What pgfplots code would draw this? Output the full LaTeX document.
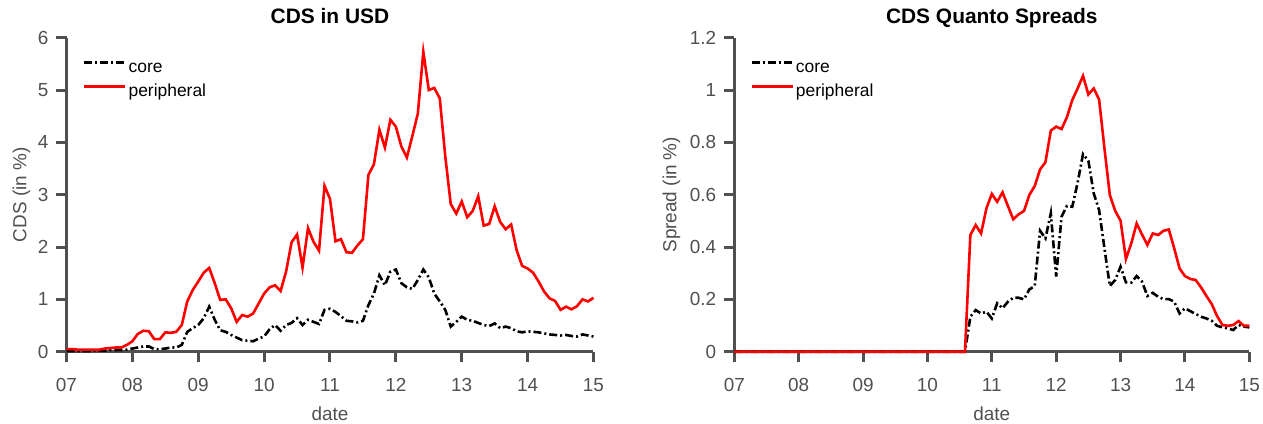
\documentclass[border=0pt]{standalone}
\usepackage{pgfplots}
\usepackage{pgfplotstable}
\usepackage{fontspec}
\setmainfont{Liberation Sans}
\pgfplotsset{compat=1.18}
\definecolor{axisgray}{RGB}{80,80,80}
\definecolor{myred}{RGB}{255,0,0}

\pgfplotstableread{
x core periph
7.0000 0.01 0.05
7.0833 0.01 0.05
7.1667 0.01 0.04
7.2500 0.01 0.04
7.3333 0.01 0.04
7.4167 0.02 0.04
7.5000 0.02 0.04
7.5833 0.02 0.06
7.6667 0.03 0.07
7.7500 0.03 0.08
7.8333 0.03 0.08
7.9167 0.04 0.13
8.0000 0.06 0.20
8.0833 0.08 0.34
8.1667 0.10 0.40
8.2500 0.10 0.39
8.3333 0.05 0.24
8.4167 0.05 0.24
8.5000 0.06 0.37
8.5833 0.08 0.36
8.6667 0.08 0.38
8.7500 0.13 0.51
8.8333 0.38 0.96
8.9167 0.45 1.18
9.0000 0.51 1.34
9.0833 0.64 1.51
9.1667 0.86 1.60
9.2500 0.61 1.31
9.3333 0.41 0.99
9.4167 0.38 1.00
9.5000 0.32 0.83
9.5833 0.27 0.57
9.6667 0.22 0.70
9.7500 0.21 0.67
9.8333 0.20 0.73
9.9167 0.25 0.92
10.0000 0.29 1.11
10.0833 0.43 1.23
10.1667 0.51 1.27
10.2500 0.40 1.16
10.3333 0.51 1.53
10.4167 0.55 2.09
10.5000 0.64 2.24
10.5833 0.51 1.61
10.6667 0.61 2.36
10.7500 0.57 2.10
10.8333 0.53 1.93
10.9167 0.80 3.17
11.0000 0.82 2.92
11.0833 0.76 2.11
11.1667 0.68 2.15
11.2500 0.59 1.90
11.3333 0.58 1.89
11.4167 0.56 2.03
11.5000 0.59 2.15
11.5833 0.89 3.38
11.6667 1.11 3.58
11.7500 1.46 4.24
11.8333 1.27 3.90
11.9167 1.53 4.43
12.0000 1.57 4.30
12.0833 1.31 3.92
12.1667 1.23 3.71
12.2500 1.20 4.12
12.3333 1.37 4.55
12.4167 1.57 5.73
12.5000 1.42 5.00
12.5833 1.11 5.04
12.6667 0.96 4.84
12.7500 0.80 3.73
12.8333 0.48 2.82
12.9167 0.57 2.64
13.0000 0.67 2.87
13.0833 0.61 2.57
13.1667 0.59 2.69
13.2500 0.55 2.97
13.3333 0.51 2.41
13.4167 0.49 2.44
13.5000 0.54 2.78
13.5833 0.45 2.48
13.6667 0.48 2.34
13.7500 0.45 2.43
13.8333 0.39 1.94
13.9167 0.37 1.64
14.0000 0.39 1.59
14.0833 0.38 1.51
14.1667 0.37 1.34
14.2500 0.35 1.15
14.3333 0.33 1.02
14.4167 0.32 0.97
14.5000 0.31 0.80
14.5833 0.32 0.86
14.6667 0.30 0.81
14.7500 0.29 0.87
14.8333 0.33 1.00
14.9167 0.31 0.96
15.0000 0.29 1.03
}\cdstable

\pgfplotstableread{
x core periph
7.0000 0 0
10.5833 0 0
10.6667 0.134 0.446
10.7500 0.159 0.484
10.8333 0.146 0.452
10.9167 0.153 0.548
11.0000 0.127 0.603
11.0833 0.185 0.573
11.1667 0.166 0.609
11.2500 0.191 0.557
11.3333 0.206 0.506
11.4167 0.206 0.525
11.5000 0.200 0.538
11.5833 0.238 0.599
11.6667 0.251 0.633
11.7500 0.462 0.697
11.8333 0.433 0.724
11.9167 0.529 0.845
12.0000 0.287 0.860
12.0833 0.516 0.851
12.1667 0.557 0.896
12.2500 0.554 0.962
12.3333 0.646 1.006
12.4167 0.755 1.054
12.5000 0.730 0.983
12.5833 0.605 1.006
12.6667 0.541 0.964
12.7500 0.395 0.777
12.8333 0.251 0.599
12.9167 0.274 0.538
13.0000 0.325 0.501
13.0833 0.265 0.354
13.1667 0.264 0.414
13.2500 0.289 0.490
13.3333 0.268 0.448
13.4167 0.213 0.408
13.5000 0.225 0.452
13.5833 0.210 0.446
13.6667 0.201 0.462
13.7500 0.201 0.467
13.8333 0.191 0.395
13.9167 0.146 0.318
14.0000 0.166 0.289
14.0833 0.155 0.278
14.1667 0.144 0.274
14.2500 0.134 0.246
14.3333 0.127 0.213
14.4167 0.118 0.182
14.5000 0.099 0.136
14.5833 0.093 0.102
14.6667 0.089 0.099
14.7500 0.083 0.102
14.8333 0.102 0.117
14.9167 0.096 0.099
15.0000 0.093 0.099
}\quantotable

\pgfplotsset{
  mystyle/.style={
    scale only axis,
    axis x line*=bottom,
    axis y line*=left,
    x axis line style={draw=axisgray, line width=3bp},
    y axis line style={draw=axisgray, line width=3bp},
    xtick style={draw=axisgray, line width=3bp},
    ytick style={draw=axisgray, line width=3bp},
    major tick length=10bp,
    tick align=outside,
    xmin=7, xmax=15,
    xtick={7,8,...,15},
    xticklabels={07,08,09,10,11,12,13,14,15},
    ticklabel style={font=\fontsize{19}{19}\selectfont, text=axisgray},
    xticklabel style={anchor=base, inner sep=0pt, yshift=-29.3bp},
    yticklabel style={anchor=east, inner sep=0pt, xshift=-8bp},
    label style={font=\fontsize{19}{19}\selectfont, text=axisgray},
    xlabel style={at={(axis description cs:0.5,-0.2194)}, anchor=base, inner sep=0pt},
    title style={font=\fontsize{21}{21}\selectfont\bfseries, text=black, at={(axis description cs:0.5,1)}, anchor=base, yshift=8.7bp, inner sep=0pt},
    clip=false,
    legend cell align=left,
    legend style={draw=none, fill=none, inner sep=0pt, outer sep=0pt,
      font=\fontsize{17.5}{17.5}\selectfont, anchor=north west,
      row sep=3bp, column sep=0pt,
      nodes={inner sep=2bp, text height=13bp, text depth=4bp}},
    legend image code/.code={\draw[##1] (0bp,5.5bp) -- (41bp,5.5bp);},
    xlabel={date},
  },
  coreline/.style={black, line width=2.6bp, dash pattern=on 8bp off 3bp on 2bp off 3bp},
  perline/.style={myred, line width=2.6bp},
}

\begin{document}
\begin{tikzpicture}
\path[use as bounding box] (0bp,0bp) rectangle (1263bp,424bp);
\begin{axis}[mystyle,
  at={(66.5bp,72.3bp)}, anchor=south west,
  width=527bp, height=314bp,
  ymin=0, ymax=6, ytick={0,1,...,6},
  yticklabels={0,1,2,3,4,5,6},
  ylabel={CDS (in \%)},
  ylabel style={at={(axis description cs:-0.0763,0.5)}, anchor=base, inner sep=0pt},
  title={CDS in USD},
  legend style={at={(axis description cs:0.0313,0.936)}},
]
\addplot[coreline] table[x=x,y=core] {\cdstable};
\addplot[perline] table[x=x,y=periph] {\cdstable};
\legend{core,peripheral}
\end{axis}
\begin{axis}[mystyle,
  at={(734.3bp,72.3bp)}, anchor=south west,
  width=515bp, height=314bp,
  ymin=0, ymax=1.2, ytick={0,0.2,0.4,0.6,0.8,1,1.2},
  yticklabels={0,0.2,0.4,0.6,0.8,1,1.2},
  ylabel={Spread (in \%)},
  ylabel style={at={(axis description cs:-0.1126,0.5)}, anchor=base, inner sep=0pt},
  title={CDS Quanto Spreads},
  legend style={at={(axis description cs:0.0311,0.936)}},
]
\addplot[coreline] table[x=x,y=core] {\quantotable};
\addplot[perline] table[x=x,y=periph] {\quantotable};
\legend{core,peripheral}
\end{axis}
\end{tikzpicture}
\end{document}
